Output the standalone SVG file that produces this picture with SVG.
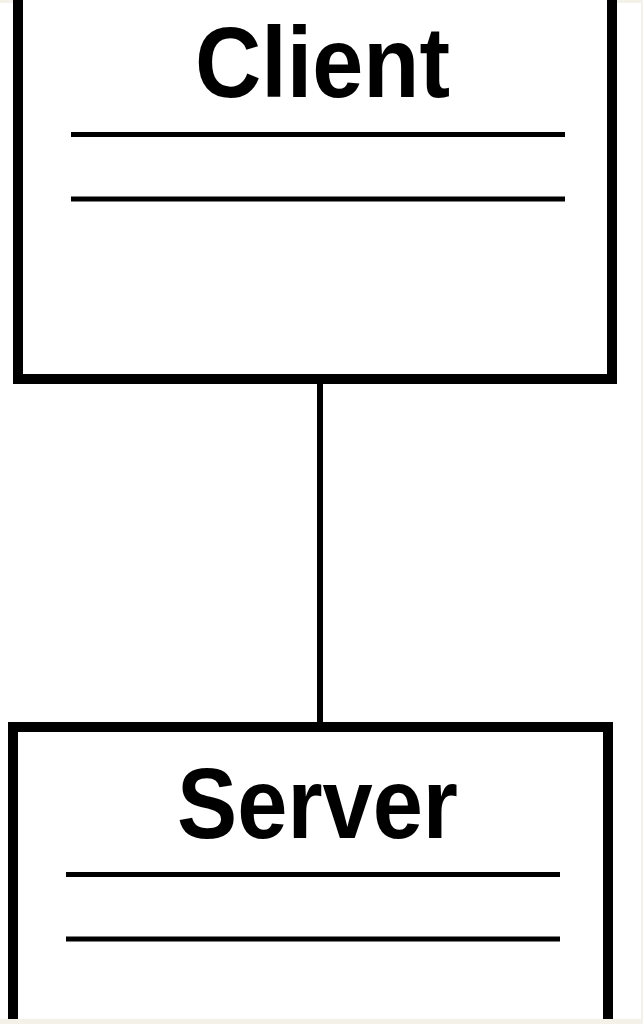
<svg xmlns="http://www.w3.org/2000/svg" width="643" height="1024" viewBox="0 0 643 1024">
  <style>
    .box { fill: #ffffff; stroke: #000000; stroke-width: 10; }
    .div { stroke: #000000; stroke-width: 5; }
    .name { font-family: "Liberation Sans", Arial, sans-serif; font-weight: bold; font-size: 100px; fill: #000000; }
    .conn { stroke: #000000; stroke-width: 6; fill: none; }
  </style>
  <rect x="0" y="0" width="643" height="1024" fill="#f3f1e8"/>
  <rect x="0" y="3" width="641" height="1016" fill="#ffffff"/>
  <g id="connectors">
    <line class="conn" x1="320" y1="384" x2="320" y2="723"/>
  </g>
  <g id="client">
    <rect class="box" x="18" y="-20" width="594" height="399"/>
    <text class="name" x="195" y="97" textLength="255" lengthAdjust="spacingAndGlyphs">Client</text>
    <line class="div" x1="71" y1="134.5" x2="565" y2="134.5"/>
    <line class="div" x1="71" y1="199" x2="565" y2="199"/>
  </g>
  <g id="server">
    <rect class="box" x="13" y="727" width="595" height="320"/>
    <text class="name" x="177" y="838" textLength="281" lengthAdjust="spacingAndGlyphs">Server</text>
    <line class="div" x1="66" y1="874.5" x2="560" y2="874.5"/>
    <line class="div" x1="66" y1="939" x2="560" y2="939"/>
  </g>
  <rect x="0" y="1019" width="643" height="5" fill="#f3f1e8"/>
</svg>
